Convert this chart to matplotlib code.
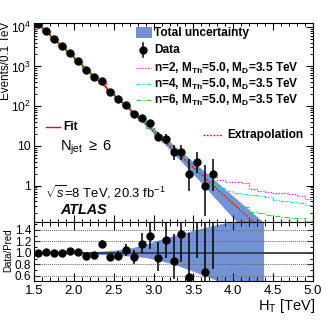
import numpy as np
import matplotlib
matplotlib.use("Agg")
import matplotlib.pyplot as plt
from matplotlib.lines import Line2D
from matplotlib.patches import Rectangle
from matplotlib.ticker import MultipleLocator, FixedLocator, LogLocator, FuncFormatter, NullFormatter

plt.rcParams.update({
    "font.family": ["Liberation Sans", "DejaVu Sans"],
    "mathtext.fontset": "custom",
    "mathtext.rm": "Liberation Sans",
    "mathtext.it": "Liberation Sans:italic",
    "mathtext.bf": "Liberation Sans:bold",
    "axes.linewidth": 0.8,
})

# ---------------- data ----------------
ht_centers = [1.55, 1.65, 1.75, 1.85, 1.95, 2.05, 2.15, 2.25, 2.35, 2.45, 2.55, 2.65,
              2.75, 2.85, 2.95, 3.05, 3.15, 3.25, 3.35, 3.45, 3.55, 3.65, 3.75]
data_counts = [11700, 7660, 4870, 3190, 2155, 1374, 832, 547, 430, 223, 150, 108,
               62, 51, 37, 17, 15, 7, 7, 2, 4, 1, 2]
data_err_lo = [108, 88, 70, 56, 46, 37, 29, 23, 21, 15, 12, 10,
               7.8, 7.1, 6.1, 4.1, 3.8, 2.58, 2.58, 1.29, 1.91, 0.83, 1.29]
data_err_hi = [108, 88, 70, 57, 47, 38, 30, 24, 22, 16, 13, 11,
               8.9, 8.2, 7.1, 5.2, 4.9, 3.77, 3.77, 2.64, 3.16, 2.30, 2.64]

fit_ht = [1.5, 1.6, 1.7, 1.8, 1.9, 2.0, 2.1, 2.2, 2.3, 2.4, 2.5, 2.6, 2.7, 2.8, 2.9,
          3.0, 3.1, 3.2, 3.3, 3.4, 3.5, 3.6, 3.7, 3.8, 3.9, 4.0, 4.1, 4.2, 4.3, 4.4]
fit_vals = [14520, 9420, 6110, 3963, 2570, 1671, 1086, 706, 460, 300, 195.4, 127.4,
            83.2, 54.3, 35.6, 23.2, 15.2, 9.98, 6.53, 4.29, 2.81, 1.85, 1.216, 0.80,
            0.526, 0.347, 0.229, 0.151, 0.0995, 0.0658]
fit_range_end = 2.8

band_ht = [1.5, 2.0, 2.3, 2.5, 2.7, 2.9, 3.1, 3.3, 3.5, 3.7, 3.9, 4.1, 4.38]
band_up = [1.01, 1.015, 1.025, 1.045, 1.08, 1.15, 1.24, 1.32, 1.39, 1.46, 1.52, 1.58, 1.66]
band_dn = [0.99, 0.985, 0.975, 0.96, 0.945, 0.92, 0.86, 0.78, 0.68, 0.57, 0.47, 0.40, 0.34]

sig_edges = [1.5, 1.6, 1.7, 1.8, 1.9, 2.0, 2.1, 2.2, 2.3, 2.4, 2.5, 2.6, 2.7, 2.8, 2.9,
             3.0, 3.1, 3.2, 3.3, 3.4, 3.5, 3.6, 3.7, 3.8, 3.9, 4.0, 4.1, 4.2, 4.3, 4.4,
             4.5, 4.6, 4.7, 4.8, 4.9, 5.0]
sig_start = 3.5   # below this the signal+background curves follow the fit
sig_n2 = [2.6, 2.0, 1.6, 1.35, 1.25, 1.2, 1.15, 0.8, 0.72, 0.68, 0.66, 0.64, 0.6, 0.55, 0.45]
sig_n4 = [2.4, 1.6, 1.1, 0.85, 0.72, 0.65, 0.62, 0.58, 0.55, 0.5, 0.42, 0.4, 0.38, 0.36, 0.33]
sig_n6 = [2.3, 1.5, 1.0, 0.66, 0.45, 0.33, 0.29, 0.22, 0.2, 0.18, 0.17, 0.16, 0.155, 0.15, 0.13]

x_ticks = [1.5, 2.0, 2.5, 3.0, 3.5, 4.0, 4.5, 5.0]
ratio_ticks = [0.6, 0.8, 1.0, 1.2, 1.4]

# ---------------- helpers ----------------
fit_ht_a = np.array(fit_ht)
fit_log = np.log10(np.array(fit_vals))


def fit_at(x):
    return 10 ** np.interp(np.asarray(x, dtype=float), fit_ht_a, fit_log)


c_band = "#7393d6"
W, H = 332, 320
fig = plt.figure(figsize=(W / 100, H / 100), dpi=100)


def fx(px):
    return px / W


def fy(py):
    return 1 - py / H


X0, X1 = 34, 313
ax = fig.add_axes([fx(X0), fy(222), fx(X1) - fx(X0), fy(22.5) - fy(222)])
axr = fig.add_axes([fx(X0), fy(281), fx(X1) - fx(X0), fy(222) - fy(281)])

# ---------------- main panel ----------------
bx = np.array(band_ht)
bfit = fit_at(bx)
ax.fill_between(bx, bfit * np.array(band_dn), bfit * np.array(band_up),
                color=c_band, lw=0, zorder=1)

edges = np.array(sig_edges)
centers = 0.5 * (edges[:-1] + edges[1:])
low = centers < sig_start
for vals, col, ls in [(sig_n2, "#ff00ff", (0, (1, 1.3))),
                      (sig_n4, "#00e5ff", (0, (3, 1.2, 1, 1.2, 1, 1.2))),
                      (sig_n6, "#44cc44", (0, (4, 1.5, 1, 1.5)))]:
    h = np.concatenate([fit_at(centers[low]), np.array(vals)])
    ax.stairs(h, edges, color=col, lw=0.9, ls=ls, zorder=2)

m_in = fit_ht_a <= fit_range_end + 1e-9
m_out = fit_ht_a >= fit_range_end - 1e-9
ax.plot(fit_ht_a[m_in], np.array(fit_vals)[m_in], color="#ff0000", lw=1.0, zorder=3)
ax.plot(fit_ht_a[m_out], np.array(fit_vals)[m_out], color="#ff0000", lw=1.0,
        ls=(0, (1.2, 1.2)), zorder=3)

ax.errorbar(ht_centers, data_counts, yerr=[data_err_lo, data_err_hi], fmt="o",
            color="k", ms=5, elinewidth=1.1, capsize=0, zorder=5)

ax.set_yscale("log")
ax.set_xlim(1.5, 5.0)
ax.set_ylim(0.1205, 12760)
ax.xaxis.set_major_locator(FixedLocator(x_ticks))
ax.xaxis.set_minor_locator(MultipleLocator(0.1))
ax.yaxis.set_major_locator(FixedLocator([1, 10, 100, 1000, 10000]))
ax.yaxis.set_minor_locator(LogLocator(base=10, subs=np.arange(2, 10) * 1.0, numticks=20))
ax.yaxis.set_minor_formatter(NullFormatter())


def logfmt(v, pos):
    e = int(round(np.log10(v)))
    if e == 0:
        return "1"
    if e == 1:
        return "10"
    return r"10$^{%d}$" % e


ax.yaxis.set_major_formatter(FuncFormatter(logfmt))
ax.tick_params(which="both", direction="in", top=True, right=True, labelbottom=False,
               labelsize=8.8, pad=2)
ax.tick_params(which="major", length=5, width=0.8)
ax.tick_params(which="minor", length=2.5, width=0.7)

# ---------------- ratio panel ----------------
axr.fill_between(bx, np.array(band_dn), np.array(band_up), color=c_band, lw=0, zorder=1)
for v in ratio_ticks:
    if abs(v - 1.0) < 1e-9:
        axr.axhline(v, color="#3a3a3a", lw=1.3, zorder=2)
    else:
        axr.axhline(v, color="#666666", lw=0.7, ls=(0, (1, 1)), zorder=2)

cfit = fit_at(ht_centers)
ratio = np.array(data_counts) / cfit
r_lo = np.array(data_err_lo) / cfit
r_hi = np.array(data_err_hi) / cfit
axr.errorbar(ht_centers, ratio, yerr=[r_lo, r_hi], fmt="o", color="k", ms=5,
             elinewidth=1.1, capsize=0, zorder=5)

axr.set_xlim(1.5, 5.0)
axr.set_ylim(0.513, 1.534)
axr.xaxis.set_major_locator(FixedLocator(x_ticks))
axr.xaxis.set_major_formatter(FuncFormatter(lambda v, p: "%.1f" % v))
axr.xaxis.set_minor_locator(MultipleLocator(0.1))
axr.yaxis.set_major_locator(FixedLocator(ratio_ticks))
axr.yaxis.set_major_formatter(FuncFormatter(lambda v, p: "%.1f" % v))
axr.yaxis.set_minor_locator(MultipleLocator(0.1))
axr.tick_params(which="both", direction="in", top=True, right=True)
axr.tick_params(axis="x", which="major", length=6, width=0.8, labelsize=9.5, pad=3)
axr.tick_params(axis="x", which="minor", length=3, width=0.7)
axr.tick_params(axis="y", which="major", length=4, width=0.8, labelsize=8.5, pad=2)
axr.tick_params(axis="y", which="minor", length=2, width=0.7)

# ---------------- axis titles ----------------
fig.text(fx(6), fy(22), "Events/0.1 TeV", rotation=90, ha="center", va="top", fontsize=8.4)
fig.text(fx(8), fy(250), "Data/Pred", rotation=90, ha="center", va="center", fontsize=7)
fig.text(fx(315), fy(306), r"H$_{\rm T}$ [TeV]", ha="right", va="center", fontsize=10.5)

# ---------------- legend (drawn by hand) ----------------
fs_leg = 8.6
fig.add_artist(Rectangle((fx(136), fy(38)), fx(152) - fx(136), fy(27) - fy(38),
                         transform=fig.transFigure, color=c_band, lw=0))
fig.text(fx(154), fy(33), "Total uncertainty", ha="left", va="center",
         fontsize=fs_leg, fontweight="bold")
fig.add_artist(Line2D([fx(143), fx(143)], [fy(43), fy(57)], color="k", lw=1.1,
                      transform=fig.transFigure))
fig.add_artist(Line2D([fx(143)], [fy(50)], marker="o", color="k", ms=5,
                      transform=fig.transFigure))
fig.text(fx(154), fy(50), "Data", ha="left", va="center", fontsize=fs_leg,
         fontweight="bold")
for yy, col, ls, n in [(68, "#ff00ff", (0, (1, 1.3)), 2),
                       (84, "#00e5ff", (0, (3, 1.2, 1, 1.2, 1, 1.2)), 4),
                       (100, "#44cc44", (0, (4, 1.5, 1, 1.5)), 6)]:
    fig.add_artist(Line2D([fx(136), fx(151)], [fy(yy), fy(yy)], color=col, lw=0.9, ls=ls,
                          transform=fig.transFigure))
    fig.text(fx(154), fy(yy),
             r"n=%d, M$_{\mathbf{Th}}$=5.0, M$_{\mathbf{D}}$=3.5 TeV" % n,
             ha="left", va="center", fontsize=fs_leg, fontweight="bold")

fig.add_artist(Line2D([fx(46), fx(60)], [fy(127), fy(127)], color="#ff0000", lw=1.0,
                      transform=fig.transFigure))
fig.text(fx(63), fy(127), "Fit", ha="left", va="center", fontsize=fs_leg,
         fontweight="bold")
fig.add_artist(Line2D([fx(203), fx(222)], [fy(135), fy(135)], color="#ff0000", lw=1.0,
                      ls=(0, (1.2, 1.2)), transform=fig.transFigure))
fig.text(fx(227), fy(135), "Extrapolation", ha="left", va="center", fontsize=fs_leg,
         fontweight="bold")

# ---------------- labels ----------------
fig.text(fx(60), fy(148), r"N$_{\rm jet}$ $\geq$ 6", ha="left", va="center", fontsize=10.5)
fig.text(fx(45), fy(192), r"$\sqrt{s}$=8 TeV, 20.3 fb$^{-1}$", ha="left", va="center",
         fontsize=9.4)
fig.text(fx(60), fy(210), "ATLAS", ha="left", va="center", fontsize=10.4,
         fontweight="bold", fontstyle="italic")

fig.savefig("out.png", dpi=100)
